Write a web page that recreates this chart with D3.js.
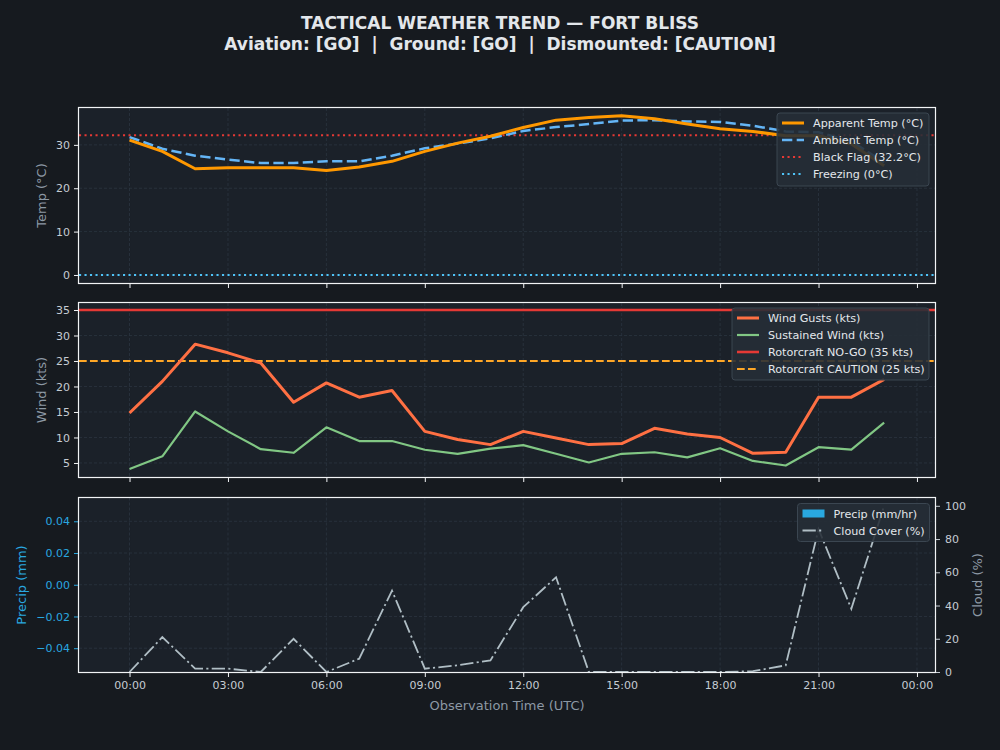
<!DOCTYPE html>
<html><head><meta charset="utf-8">
<script src="https://cdn.jsdelivr.net/npm/d3@7/dist/d3.min.js"></script>
<style>
body{margin:0;background:#161a1f;}
svg{display:block;font-family:"DejaVu Sans",sans-serif;}
</style>
</head><body>
<svg id="c" width="1000" height="750"></svg>
<script>
// ---- data ----
const hours = [0,1,2,3,4,5,6,7,8,9,10,11,12,13,14,15,16,17,18,19,20,21,22,23];
const apparentTemp = [31.1,28.5,24.5,24.7,24.7,24.7,24.1,24.9,26.2,28.5,30.4,32.0,34.0,35.7,36.3,36.7,36.0,34.8,33.7,33.1,32.1,32.1,30.2,25.2];
const ambientTemp  = [31.8,29.1,27.5,26.6,25.8,25.8,26.2,26.2,27.5,29.2,30.3,31.5,33.2,34.1,34.8,35.6,35.7,35.4,35.3,34.4,33.1,32.9,30.8,26.0];
const windGusts    = [14.8,21.0,28.3,26.6,24.6,16.9,20.7,17.9,19.2,11.2,9.6,8.6,11.2,9.9,8.6,8.8,11.8,10.7,10.0,6.9,7.1,17.9,17.9,21.4];
const sustainedWind= [3.8,6.3,15.1,11.2,7.7,7.0,12.0,9.3,9.3,7.6,6.8,7.8,8.5,6.8,5.1,6.8,7.1,6.1,7.9,5.4,4.5,8.1,7.6,12.9];
const precip       = [0,0,0,0,0,0,0,0,0,0,0,0,0,0,0,0,0,0,0,0,0,0,0,0];
const cloudCover   = [0,21,2,2,0,20,0,8,49,2,4,7,39,57,0,0,0,0,0,0.5,4,86,38,100];
const blackFlag = 32.2, freezing = 0, noGo = 35, caution = 25;
const xTicks = [0,3,6,9,12,15,18,21,24];
const xTickLabels = ["00:00","03:00","06:00","09:00","12:00","15:00","18:00","21:00","00:00"];
const tempTicks = [0,10,20,30];
const windTicks = [5,10,15,20,25,30,35];
const precipTicks = [-0.04,-0.02,0,0.02,0.04];
const cloudTicks = [0,20,40,60,80,100];
const titleLine1 = "TACTICAL WEATHER TREND — FORT BLISS";
const titleLine2 = "Aviation: [GO]  |  Ground: [GO]  |  Dismounted: [CAUTION]";

// ---- styles ----
const C = {
  fig:"#161a1f", ax:"#1b2129", spine:"#f2f4f6", tick:"#c5ccd3", label:"#8c98a4",
  grid:"#2b3540", title:"#e3e7eb",
  apparent:"#ff9800", ambient:"#64b5f6", black:"#e53935", freeze:"#4fc3f7",
  gust:"#ff7043", sustained:"#81c784", nogo:"#e53935", caution:"#ffa726",
  cloud:"#b0bec5", precip:"#29a8e0", precipAxis:"#29a8e0",
  legBg:"#252e37", legStroke:"#3b4651", legText:"#e3e7eb"
};
const DASH = { ambient:"10.3,4.4", caution:"7.7,3.3", dot:"2.1,3.4", dashdot:"13.3,3.3,2.1,3.3" };
const L = 79, R = 935;
const svg = d3.select("#c");
svg.append("rect").attr("width",1000).attr("height",750).attr("fill",C.fig);

const x = d3.scaleLinear().domain([-1.54, 24.55]).range([L, R]);

svg.append("text").attr("x",500).attr("y",29).attr("text-anchor","middle")
  .attr("font-size",17).attr("font-weight","bold").attr("fill",C.title).attr("xml:space","preserve").text(titleLine1);
svg.append("text").attr("x",500).attr("y",50).attr("text-anchor","middle")
  .attr("font-size",17).attr("font-weight","bold").attr("fill",C.title).attr("xml:space","preserve").text(titleLine2);

function fmtMinus(s){ return s.replace("-", "\u2212"); }

function panel(top, bottom, y, yTicks, yFmt, showXLabels, yColor){
  const g = svg.append("g");
  g.append("rect").attr("x",L).attr("y",top).attr("width",R-L).attr("height",bottom-top).attr("fill",C.ax);
  g.selectAll(".gx").data(xTicks).join("line")
    .attr("x1",d=>x(d)).attr("x2",d=>x(d)).attr("y1",top).attr("y2",bottom)
    .attr("stroke",C.grid).attr("stroke-width",0.8).attr("stroke-dasharray","3,2");
  g.selectAll(".gy").data(yTicks).join("line")
    .attr("x1",L).attr("x2",R).attr("y1",d=>y(d)).attr("y2",d=>y(d))
    .attr("stroke",C.grid).attr("stroke-width",0.8).attr("stroke-dasharray","3,2");
  const xa = d3.axisBottom(x).tickValues(xTicks).tickSizeOuter(0).tickSize(5).tickPadding(4)
    .tickFormat((d,i)=> showXLabels ? xTickLabels[i] : "");
  const xg = svg.append("g").attr("transform",`translate(0,${bottom})`).call(xa);
  xg.select(".domain").remove();
  xg.selectAll("line").attr("stroke",C.spine);
  xg.selectAll("text").attr("fill",C.tick).attr("font-size",11).attr("font-family","DejaVu Sans");
  const ya = d3.axisLeft(y).tickValues(yTicks).tickSizeOuter(0).tickSize(5).tickPadding(4).tickFormat(yFmt);
  const yg = svg.append("g").attr("transform",`translate(${L},0)`).call(ya);
  yg.select(".domain").remove();
  yg.selectAll("line").attr("stroke",yColor || C.spine);
  yg.selectAll("text").attr("fill",yColor || C.tick).attr("font-size",11).attr("font-family","DejaVu Sans");
  return {g, top, bottom};
}

function frame(p){
  svg.append("rect").attr("x",L-0.5).attr("y",Math.round(p.top)-0.5)
    .attr("width",R-L+1).attr("height",Math.round(p.bottom)-Math.round(p.top)+1)
    .attr("fill","none").attr("stroke",C.spine).attr("stroke-width",1.2);
}
function clip(id, top, bottom){
  svg.append("clipPath").attr("id",id).append("rect").attr("x",L).attr("y",top).attr("width",R-L).attr("height",bottom-top);
}
function yLabel(text, xPos, yPos, color){
  svg.append("text").attr("transform",`translate(${xPos},${yPos}) rotate(-90)`)
    .attr("text-anchor","middle").attr("font-size",13).attr("fill",color).text(text);
}
function legend(x0, y0, w, h, items){
  const g = svg.append("g");
  g.append("rect").attr("x",x0).attr("y",y0).attr("width",w).attr("height",h).attr("rx",3)
    .attr("fill",C.legBg).attr("fill-opacity",0.88).attr("stroke",C.legStroke).attr("stroke-width",1);
  items.forEach((it,i)=>{
    const cy = y0 + 10 + i*17;
    if(it.patch){
      g.append("rect").attr("x",x0+5).attr("y",cy-4).attr("width",22).attr("height",8).attr("fill",it.color);
    } else {
      g.append("line").attr("x1",x0+5).attr("x2",x0+27).attr("y1",cy).attr("y2",cy)
        .attr("stroke",it.color).attr("stroke-width",it.w).attr("stroke-dasharray",it.dash||null);
    }
    g.append("text").attr("x",x0+36).attr("y",cy+4).attr("font-size",11.2).attr("fill",C.legText).text(it.label);
  });
}

// ---- panel 1: temperature ----
const yT = d3.scaleLinear().domain([-1.85, 38.5]).range([283, 108]);
const p1 = panel(108, 283, yT, tempTicks, d3.format("d"), false);
clip("c1",108,283);
const g1 = svg.append("g").attr("clip-path","url(#c1)");
g1.append("line").attr("x1",L).attr("x2",R).attr("y1",yT(blackFlag)).attr("y2",yT(blackFlag))
  .attr("stroke",C.black).attr("stroke-width",2).attr("stroke-dasharray",DASH.dot);
g1.append("line").attr("x1",L).attr("x2",R).attr("y1",yT(freezing)).attr("y2",yT(freezing))
  .attr("stroke",C.freeze).attr("stroke-width",2).attr("stroke-dasharray",DASH.dot);
const lineT = arr => d3.line().x((d,i)=>x(hours[i])).y(d=>yT(d))(arr);
g1.append("path").attr("d",lineT(ambientTemp)).attr("fill","none").attr("stroke",C.ambient)
  .attr("stroke-width",2.5).attr("stroke-dasharray",DASH.ambient);
g1.append("path").attr("d",lineT(apparentTemp)).attr("fill","none").attr("stroke",C.apparent)
  .attr("stroke-width",3).attr("stroke-linejoin","round");
frame(p1);
yLabel("Temp (°C)", 46, 195.5, C.label);
legend(777, 113, 152, 73, [
  {label:"Apparent Temp (°C)", color:C.apparent, w:3},
  {label:"Ambient Temp (°C)", color:C.ambient, w:2.5, dash:DASH.ambient},
  {label:"Black Flag (32.2°C)", color:C.black, w:2, dash:DASH.dot},
  {label:"Freezing (0°C)", color:C.freeze, w:2, dash:DASH.dot}
]);

// ---- panel 2: wind ----
const yW = d3.scaleLinear().domain([2.25, 36.37]).range([477, 303]);
const p2 = panel(303, 477, yW, windTicks, d3.format("d"), false);
clip("c2",303,477);
const g2 = svg.append("g").attr("clip-path","url(#c2)");
g2.append("line").attr("x1",L).attr("x2",R).attr("y1",yW(noGo)).attr("y2",yW(noGo))
  .attr("stroke",C.nogo).attr("stroke-width",2.6);
g2.append("line").attr("x1",L).attr("x2",R).attr("y1",yW(caution)).attr("y2",yW(caution))
  .attr("stroke",C.caution).attr("stroke-width",2).attr("stroke-dasharray",DASH.caution);
const lineW = arr => d3.line().x((d,i)=>x(hours[i])).y(d=>yW(d))(arr);
g2.append("path").attr("d",lineW(sustainedWind)).attr("fill","none").attr("stroke",C.sustained)
  .attr("stroke-width",2.2).attr("stroke-linejoin","round");
g2.append("path").attr("d",lineW(windGusts)).attr("fill","none").attr("stroke",C.gust)
  .attr("stroke-width",3).attr("stroke-linejoin","round");
frame(p2);
yLabel("Wind (kts)", 46, 390, C.label);
legend(732, 308, 197, 72, [
  {label:"Wind Gusts (kts)", color:C.gust, w:3},
  {label:"Sustained Wind (kts)", color:C.sustained, w:2.2},
  {label:"Rotorcraft NO-GO (35 kts)", color:C.nogo, w:2.6},
  {label:"Rotorcraft CAUTION (25 kts)", color:C.caution, w:2, dash:DASH.caution}
]);

// ---- panel 3: precip + cloud ----
const yP = d3.scaleLinear().domain([-0.055, 0.055]).range([672, 497.5]);
const yC = d3.scaleLinear().domain([0, 105]).range([672, 497.5]);
const p3 = panel(497.5, 672, yP, precipTicks, d=>fmtMinus(d3.format(".2f")(d)), true, C.precipAxis);
clip("c3",497.5,672);
const g3 = svg.append("g").attr("clip-path","url(#c3)");
const barW = x(0.72) - x(0);
g3.selectAll(".bar").data(precip).join("rect")
  .attr("x",(d,i)=>x(hours[i]) - barW/2).attr("width",barW)
  .attr("y",d=>Math.min(yP(d),yP(0))).attr("height",d=>Math.abs(yP(d)-yP(0)))
  .attr("fill",C.precip).attr("opacity",0.8);
const ca = d3.axisRight(yC).tickValues(cloudTicks).tickSize(5).tickPadding(5).tickFormat(d3.format("d"));
const cg = svg.append("g").attr("transform",`translate(${R},0)`).call(ca);
cg.select(".domain").remove();
cg.selectAll("line").attr("stroke",C.tick);
cg.selectAll("text").attr("fill",C.tick).attr("font-size",11).attr("font-family","DejaVu Sans");
const cloudLine = d3.line().x((d,i)=>x(hours[i])).y(d=>yC(d));
svg.append("path").attr("d",cloudLine(cloudCover)).attr("fill","none").attr("stroke",C.cloud)
  .attr("stroke-width",1.8).attr("stroke-dasharray",DASH.dashdot);
frame(p3);
yLabel("Precip (mm)", 26, 585, C.precipAxis);
yLabel("Cloud (%)", 982, 585, C.label);
svg.append("text").attr("x",507).attr("y",710).attr("text-anchor","middle").attr("font-size",13)
  .attr("fill",C.label).text("Observation Time (UTC)");
legend(797.5, 503.5, 132, 38, [
  {label:"Precip (mm/hr)", color:C.precip, patch:true},
  {label:"Cloud Cover (%)", color:C.cloud, w:1.8, dash:DASH.dashdot}
]);
</script>
</body></html>
